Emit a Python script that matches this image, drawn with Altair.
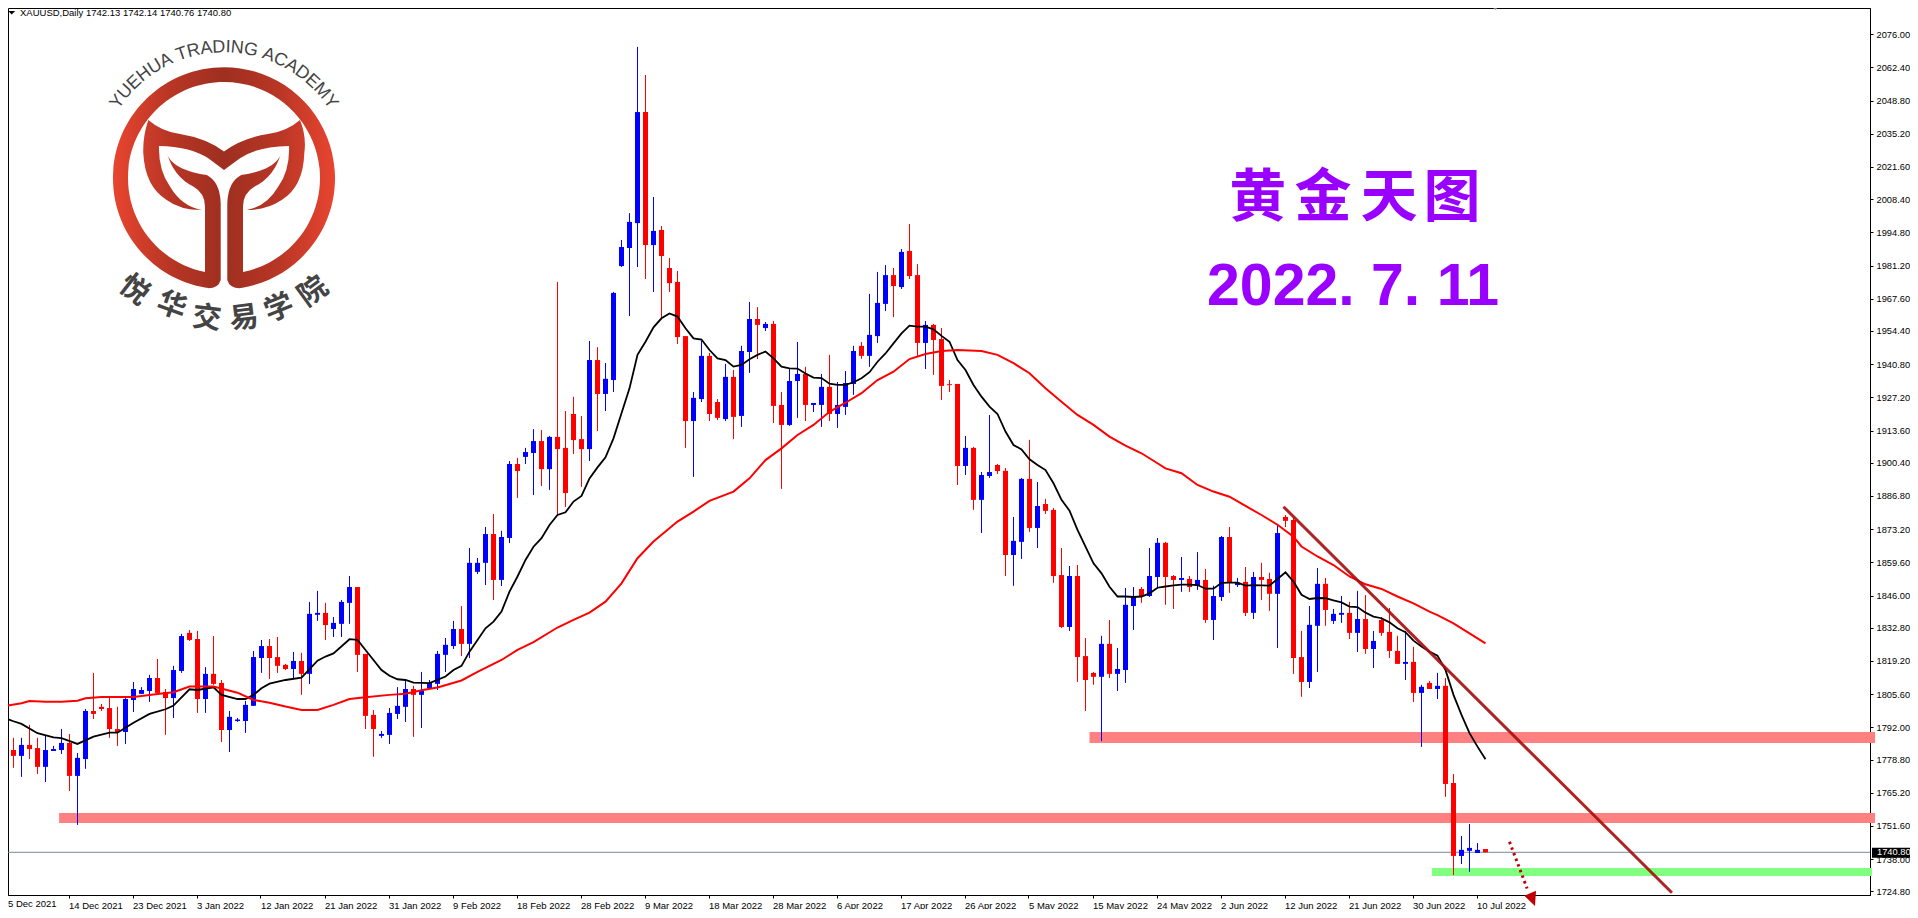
import math
import re
import altair as alt
import pandas as pd

opens = [
1781.1,1782.7,1780.3,1784.8,1783.5,1775.8,1782.3,1782.7,1785.6,1772.1,
1779.0,1798.7,1800.4,1799.9,1791.3,1790.1,1803.2,1805.7,1806.9,1812.2,
1806.5,1804.0,1815.1,1830.7,1828.2,1803.6,1813.9,1810.2,1790.9,1794.6,
1794.6,1800.8,1820.4,1825.3,1820.8,1817.6,1815.9,1819.2,1813.9,1838.1,
1838.9,1832.3,1834.4,1843.0,1849.5,1822.1,1797.1,1788.5,1788.9,1797.5,
1800.4,1807.7,1805.3,1808.0,1809.8,1821.7,1825.3,1832.3,1826.2,1855.7,
1859.4,1871.2,1852.4,1869.6,1899.9,1902.8,1904.4,1909.3,1897.8,1911.0,
1906.5,1920.4,1910.1,1906.0,1942.5,1928.6,1934.3,1981.0,1988.4,1998.6,
2044.1,1989.6,1995.8,1980.2,1974.5,1952.3,1917.5,1926.5,1944.2,1925.3,
1918.3,1935.6,1919.6,1945.8,1959.3,1955.6,1957.3,1924.1,1915.9,1933.9,
1936.8,1924.1,1924.1,1931.5,1920.4,1923.3,1932.7,1948.3,1944.2,1952.3,
1965.5,1977.3,1972.4,1987.2,1977.3,1949.5,1956.9,1951.1,1932.6,1932.7,
1899.1,1906.5,1885.2,1895.0,1899.5,1897.1,1862.6,1868.0,1893.8,1873.7,
1883.5,1881.1,1854.4,1833.1,1854.0,1821.2,1814.3,1812.7,1826.2,1813.9,
1815.5,1841.7,1848.7,1845.8,1853.6,1867.6,1854.0,1852.4,1852.8,1850.0,
1852.4,1836.0,1845.4,1870.0,1850.3,1851.6,1838.9,1853.6,1852.8,1846.7,
1878.2,1877.0,1820.8,1810.6,1833.6,1850.8,1835.6,1838.1,1838.9,1830.7,
1836.4,1824.1,1836.0,1831.1,1823.3,1818.0,1818.8,1806.1,1810.2,1807.7,
1809.0,1769.2,1739.3,1741.4,1740.5,1742.13]
highs = [
1783.8,1787.7,1787.7,1793.0,1787.7,1788.5,1784.4,1791.3,1789.3,1781.5,
1799.5,1814.3,1801.6,1804.4,1800.4,1804.0,1810.6,1808.5,1813.5,1820.0,
1807.7,1817.2,1830.3,1831.9,1831.5,1816.7,1829.4,1811.4,1798.7,1795.8,
1802.8,1823.3,1827.8,1828.2,1829.0,1818.0,1822.9,1822.5,1843.4,1847.9,
1843.0,1837.2,1844.2,1854.0,1849.5,1822.1,1799.1,1790.5,1799.9,1808.5,
1811.0,1809.0,1814.7,1811.4,1823.3,1828.6,1835.6,1841.7,1865.5,1861.4,
1874.1,1879.4,1872.5,1901.1,1902.4,1906.5,1914.2,1913.8,1911.4,1974.5,
1921.6,1927.4,1919.6,1950.3,1947.8,1941.3,1970.4,1991.7,2002.7,2070.8,
2059.3,2009.3,1997.4,1984.3,1979.0,1952.3,1929.4,1950.3,1945.4,1926.5,
1940.9,1938.4,1948.3,1966.3,1964.2,1958.1,1958.5,1929.4,1938.8,1949.9,
1939.7,1924.9,1936.8,1944.6,1933.5,1938.0,1948.3,1949.9,1969.6,1978.6,
1981.4,1980.2,1988.0,1998.2,1981.8,1958.5,1957.3,1955.6,1934.3,1932.7,
1911.4,1906.9,1896.6,1920.0,1899.9,1898.3,1878.2,1894.2,1909.8,1892.5,
1885.6,1881.9,1865.5,1858.1,1858.5,1828.6,1814.7,1829.5,1836.0,1824.5,
1849.1,1849.5,1849.5,1865.5,1869.6,1868.0,1854.4,1861.8,1854.0,1863.8,
1856.9,1850.0,1870.4,1874.1,1853.2,1857.7,1855.7,1859.4,1855.3,1875.0,
1879.0,1877.8,1831.5,1841.7,1857.3,1853.2,1840.5,1845.8,1843.4,1847.9,
1846.2,1831.5,1837.2,1840.9,1829.5,1831.5,1825.0,1809.4,1811.0,1814.3,
1812.2,1772.9,1747.5,1752.4,1744.6,1742.14]
lows = [
1780.3,1775.4,1771.7,1779.0,1772.9,1769.6,1782.3,1781.1,1765.9,1752.0,
1775.0,1795.4,1798.7,1787.7,1784.4,1785.2,1798.3,1805.7,1802.4,1805.3,
1788.9,1795.8,1814.3,1827.4,1797.9,1797.9,1809.4,1786.0,1781.9,1794.2,
1789.7,1800.8,1814.3,1811.8,1814.3,1815.5,1812.2,1805.3,1809.8,1835.6,
1827.8,1829.0,1829.0,1834.4,1814.7,1791.3,1779.9,1787.7,1785.2,1795.4,
1794.2,1788.1,1791.7,1808.0,1807.3,1814.7,1824.1,1821.2,1820.4,1854.8,
1850.3,1844.2,1849.9,1867.5,1886.0,1899.9,1887.2,1890.9,1889.3,1879.0,
1882.3,1904.0,1890.5,1901.1,1913.4,1921.6,1929.4,1980.6,1960.5,1980.6,
1975.7,1970.4,1959.7,1970.4,1949.1,1906.5,1894.6,1925.3,1917.5,1917.9,
1917.5,1910.1,1915.1,1937.2,1942.9,1954.4,1916.7,1889.7,1915.5,1918.8,
1917.5,1921.2,1915.1,1917.5,1914.7,1920.0,1928.2,1943.0,1939.7,1949.5,
1962.6,1960.1,1971.6,1975.7,1943.8,1938.8,1936.4,1926.1,1929.4,1891.3,
1895.4,1881.1,1871.6,1894.2,1895.8,1854.0,1850.0,1861.0,1872.1,1865.5,
1879.4,1851.2,1832.7,1831.5,1810.6,1798.7,1809.4,1786.4,1812.2,1806.9,
1810.2,1831.9,1843.0,1845.4,1849.1,1842.2,1840.5,1847.5,1847.5,1848.3,
1834.8,1827.8,1843.8,1847.1,1849.5,1837.6,1836.4,1844.2,1839.7,1824.5,
1874.1,1813.9,1804.5,1808.1,1814.7,1833.6,1834.4,1834.8,1828.2,1822.9,
1822.1,1816.3,1829.5,1820.4,1818.0,1811.4,1802.4,1784.0,1807.7,1803.6,
1763.5,1731.5,1736.0,1732.8,1740.5,1740.76]
closes = [
1782.7,1780.3,1784.8,1783.1,1775.8,1782.7,1783.1,1785.6,1772.1,1779.5,
1798.7,1797.5,1799.5,1791.3,1790.1,1803.6,1807.7,1807.3,1812.2,1806.1,
1804.0,1815.5,1829.4,1827.8,1803.6,1813.9,1809.8,1790.9,1796.3,1795.2,
1801.2,1820.8,1825.3,1820.4,1817.2,1815.9,1819.2,1813.9,1838.5,1838.9,
1833.9,1834.8,1843.4,1849.5,1821.7,1796.7,1791.3,1789.3,1797.9,1800.8,
1807.7,1805.3,1806.9,1810.2,1822.1,1825.8,1832.3,1826.2,1859.4,1859.4,
1871.2,1852.4,1870.0,1899.9,1897.0,1904.8,1909.3,1897.8,1911.0,1906.0,
1888.0,1909.7,1906.0,1942.5,1928.6,1934.8,1970.0,1988.8,1999.1,2044.1,
1989.6,1995.4,1985.1,1974.0,1951.9,1917.5,1927.0,1944.2,1920.4,1918.8,
1935.6,1919.2,1946.2,1959.3,1956.9,1957.3,1923.7,1915.9,1933.9,1936.8,
1924.1,1924.9,1931.5,1920.4,1924.1,1933.1,1946.2,1944.2,1952.8,1965.9,
1977.3,1972.8,1986.8,1976.9,1949.5,1956.9,1950.7,1931.9,1932.2,1899.1,
1906.5,1885.2,1895.4,1896.6,1897.0,1862.6,1868.4,1893.8,1873.7,1882.7,
1880.7,1854.0,1833.1,1854.0,1820.8,1811.4,1812.7,1826.2,1813.9,1815.9,
1842.2,1845.8,1845.8,1854.0,1867.6,1853.6,1852.4,1853.2,1849.5,1852.4,
1836.0,1845.8,1870.0,1851.2,1851.3,1838.9,1853.6,1852.4,1846.7,1871.6,
1876.6,1820.4,1810.6,1834.0,1850.8,1840.1,1838.5,1838.9,1830.7,1836.4,
1824.1,1827.4,1830.7,1823.3,1818.0,1818.8,1806.1,1808.6,1807.7,1809.0,
1768.8,1739.3,1741.8,1742.6,1741.8,1740.80]

black_bar = [0,1,2,4,6,7,9,11,13,14,16,18,20,21,23,24,26,27,29,30,31,32,33,35,37,39,40,41,43,44,45,47,48,49,50,51,53,55,56,57,58,59,
60,61,62,63,64,65,66,67,68,69,70,71,72,73,74,75,76,77,78,79,80,81,82,83,84,85,86,87,88,89,90,91,92,93,94,95,96,97,98,99,
100,101,102,103,104,105,106,107,108,109,110,111,112,113,114,115,116,117,118,119,120,121,122,123,124,125,126,127,128,129,130,
131,132,133,134,135,136,137,138,139,140,141,142,143,144,145,146,147,148,149,150,151,152,153,154,155,156,157,158,159,160,
161,162,163,164,165,166,167,168,169,170,171,172,173,174,175,176,177,178,179,180,181,182,183,184,185]
black_ma = [1795.7,1794.5,1793.4,1789.6,1787.9,1787.6,1785.2,1788.2,1789.8,1789.8,1793.9,1797.5,1799.4,1800.9,1807.6,1807.3,1808.4,1805.3,1803.6,1803.6,1805.3,1808.0,1809.9,1811.4,1812.4,1819.3,1821.0,1822.3,1828.1,1827.8,1823.7,1815.5,1813.1,1811.7,1811.4,1810.3,1810.1,1812.8,1815.5,1817.2,1823.0,1827.8,
1832.6,1835.3,1839.4,1847.6,1853.8,1860.6,1866.0,1869.5,1874.9,1879.0,1880.1,1884.5,1886.8,1894.0,1898.5,1902.6,1910.4,1920.7,1930.9,1944.6,1950.0,1955.9,1959.6,1961.6,1960.3,1955.5,1951.4,1950.9,1946.6,1943.2,1942.5,1939.8,1940.5,1942.8,1944.6,1946.0,1943.2,1939.8,1939.1,1939.0,
1937.0,1935.3,1935.1,1932.8,1932.3,1932.3,1933.4,1935.0,1937.5,1941.8,1945.2,1949.3,1953.4,1956.6,1956.2,1956.2,1955.1,1952.4,1950.0,1942.5,1938.4,1932.3,1927.5,1923.4,1920.4,1913.2,1907.7,1905.9,1901.8,1899.5,1897.4,
1892.0,1885.2,1880.8,1872.9,1866.0,1859.2,1855.1,1849.6,1845.6,1845.6,1845.4,1845.6,1846.9,1849.2,1849.7,1850.2,1850.5,1850.5,1850.3,1848.8,1848.8,1851.2,1851.3,1851.3,1850.1,1850.3,1850.2,1850.1,1852.8,1855.5,
1851.7,1846.3,1844.6,1845.0,1844.9,1844.0,1843.2,1841.5,1841.3,1839.0,1837.4,1836.7,1835.0,1832.6,1831.0,1827.5,1825.1,1823.0,1821.4,1815.5,1805.3,1797.1,1789.6,1784.1,1778.9]

red_bar = [0,2,3,5,7,9,10,12,16,19,21,23,26,29,31,33,35,37,39,41,43,45,48,50,52,54,57,59,62,64,66,69,71,73,75,77,79,81,84,86,88,91,93,95,97,99,101,103,105,107,109,
111,113,115,117,119,122,124,126,128,130,132,134,136,138,140,142,144,145,147,149,151,153,155,157,159,161,162,164,166,168,170,172,174,176,178,179,181,183,185]
red_ma = [1800.8,1801.9,1802.8,1802.5,1802.5,1802.9,1803.9,1804.4,1804.4,1805.7,1806.4,1808.7,1808.7,1806.2,1803.2,1802.1,1800.5,1799.1,1799.1,1801.2,1803.6,1804.3,1805.3,1805.8,1807.2,1808.3,1811.2,1814.7,1819.6,1823.7,1826.9,1832.9,1836.0,1839.0,1843.5,1851.0,1861.3,1868.1,1876.3,1880.4,1884.8,1888.6,1894.0,1901.5,1906.3,1911.8,1915.9,1921.3,1925.0,1928.9,1934.3,
1937.7,1942.9,1945.0,1946.2,1946.6,1946.2,1944.6,1941.2,1937.1,1930.9,1925.4,1920.0,1915.9,1911.1,1907.4,1904.3,1900.2,1898.1,1896.1,1891.3,1888.6,1886.5,1882.7,1879.0,1875.0,1870.1,1866.1,1862.0,1858.5,1853.8,1850.6,1848.7,1845.6,1842.8,1839.4,1838.0,1834.6,1830.5,1826.4]

date_bars = [8,16,24,32,40,48,56,64,72,80,88,96,104,112,120,128,136,144,152,160,168,176,184]
date_labels = ["14 Dec 2021","23 Dec 2021","3 Jan 2022","12 Jan 2022","21 Jan 2022","31 Jan 2022","9 Feb 2022","18 Feb 2022","28 Feb 2022","9 Mar 2022","18 Mar 2022","28 Mar 2022","6 Apr 2022","17 Apr 2022","26 Apr 2022","5 May 2022","15 May 2022","24 May 2022","2 Jun 2022","12 Jun 2022","21 Jun 2022","30 Jun 2022","10 Jul 2022"]
first_date = "5 Dec 2021"
price_ticks = [2076.0,2062.4,2048.8,2035.2,2021.6,2008.4,1994.8,1981.2,1967.6,1954.4,1940.8,1927.2,1913.6,1900.4,1886.8,1873.2,1859.6,1846.0,1832.8,1819.2,1805.6,1792.0,1778.8,1765.2,1751.6,1738.0,1724.8]
last_price = 1740.80

band_x0 = [6.7,135.5,178.3]
band_x1 = [233.7,233.7,233.3]
band_top = [1756.9,1790.1,1734.4]
band_bottom = [1752.8,1785.6,1731.1]
band_colors = ["#FF8080","#FF8080","#80FF80"]
trend_bar = [159.75,208.3]
trend_price = [1882.4,1724.2]
arrow_bar = [188.0,190.2]
arrow_price = [1745.1,1726.0]

FONT = "Liberation Sans"
x_scale = alt.Scale(domain=[0.3125,233.0625], nice=False, zero=False)
y_scale = alt.Scale(domain=[1723.3,2086.74], nice=False, zero=False)

x_axis = alt.Axis(
    values=date_bars, labelExpr="%s[datum.value/8-1]" % str(date_labels),
    grid=False, labelFont=FONT, labelFontSize=9.5, labelColor="#000", labelAlign="left",
    tickSize=3, tickColor="#000", domainColor="#000", labelPadding=2, labelOverlap=False,
    labelFlush=False, labelBound=False, tickOffset=-1, title=None)
y_axis = alt.Axis(
    orient="right", values=price_ticks, format=".2f", grid=False, labelFont=FONT, labelFontSize=9.3,
    labelColor="#000", tickSize=3, tickColor="#000", domainColor="#000", labelPadding=3,
    labelOverlap=False, labelBound=False, labelFlush=False, title=None)

X = lambda f: alt.X(f, scale=x_scale, axis=x_axis)
Y = lambda f: alt.Y(f, scale=y_scale, axis=y_axis)

bars = list(range(len(opens)))
candles = pd.DataFrame({"bar":bars,"o":opens,"h":highs,"l":lows,"c":closes})
candles["dir"] = ["up" if c>o else "down" for o,c in zip(opens,closes)]
dir_color = alt.Color("dir:N", scale=alt.Scale(domain=["up","down"],range=["#0000FF","#FF0000"]), legend=None)

price_line = alt.Chart(pd.DataFrame({"p":[last_price]})).mark_rule(color="#778899", strokeWidth=1).encode(y=Y("p:Q"))
bands_df = pd.DataFrame({"x0":band_x0,"x1":band_x1,"t":band_top,"b":band_bottom,"col":band_colors})
bands = alt.Chart(bands_df).mark_rect().encode(x=X("x0:Q"),x2="x1:Q",y=Y("t:Q"),y2="b:Q",color=alt.Color("col:N",scale=None))
wicks = alt.Chart(candles).mark_rule(strokeWidth=1).encode(x=X("bar:Q"),y=Y("h:Q"),y2="l:Q",color=dir_color)
bodies = alt.Chart(candles).mark_rule(strokeWidth=5).encode(x=X("bar:Q"),y=Y("o:Q"),y2="c:Q",color=dir_color)
black_line = alt.Chart(pd.DataFrame({"bar":black_bar,"v":black_ma})).mark_line(color="#000000",strokeWidth=1.8).encode(x=X("bar:Q"),y=Y("v:Q"))
red_line = alt.Chart(pd.DataFrame({"bar":red_bar,"v":red_ma})).mark_line(color="#FF0000",strokeWidth=2).encode(x=X("bar:Q"),y=Y("v:Q"))
trend = alt.Chart(pd.DataFrame({"bar":trend_bar,"v":trend_price})).mark_line(color="#A81010",strokeWidth=3,opacity=0.92).encode(x=X("bar:Q"),y=Y("v:Q"))
arrow = alt.Chart(pd.DataFrame({"bar":arrow_bar,"v":arrow_price})).mark_line(color="#C00000",strokeWidth=3,strokeDash=[2.5,3.5]).encode(x=X("bar:Q"),y=Y("v:Q"))

one = pd.DataFrame({"n":[1]})

def shape(path, px, py, **kw):
    return alt.Chart(one).mark_point(shape=path, size=4, filled=True, strokeWidth=0, opacity=1, **kw).encode(
        x=alt.value(px-8), y=alt.value(py-8))

def label(text, px, py, size, color="#000000", font=FONT, weight="normal", angle=0, align="left", baseline="middle"):
    return alt.Chart(one).mark_text(text=text, font=font, fontSize=size, color=color, fontWeight=weight,
                                    angle=angle % 360, align=align, baseline=baseline).encode(
        x=alt.value(px-8), y=alt.value(py-8))

arrow_head = shape("M-7.7,-1.8 L4,-6.8 L3,8.5 Z", 1532, 897.5, color="#C00000")

def logo_path():
    cx, cy = 402, 475
    def conv(t):
        return re.sub(r"(\d+),(\d+)", lambda m: "%.1f,%.1f" % ((int(m[1])-cx)/3, (int(m[2])-cy)/3), t)
    ring = (conv("M360,805 ") + "A111,111 0 1 1 " + conv("444,805 L459,756 ") +
            "A96,96 0 1 0 " + conv("345,756 ") + "Z ")
    crown = conv("M175,300 Q215,335 270,342 Q350,355 402,395 Q455,355 534,342 Q590,335 630,300 "
                 "Q650,350 643,400 Q640,500 575,540 Q530,570 470,570 Q530,560 565,500 Q600,450 597,378 "
                 "Q500,380 450,415 L402,450 L355,415 Q300,380 207,378 Q205,450 240,500 Q275,560 335,570 "
                 "Q270,570 230,540 Q165,500 160,400 Q158,350 175,300 Z ")
    left = conv("M230,397 Q235,425 275,445 Q310,460 350,465 Q390,485 392,550 L392,780 Q385,805 355,805 "
                "L345,756 L345,560 Q345,520 310,500 Q250,470 230,397 Z ")
    right = conv("M574,397 Q554,470 494,500 Q459,520 459,560 L459,756 L449,805 Q419,805 412,780 L412,550 "
                 "Q414,485 454,465 Q494,460 529,445 Q569,425 574,397 Z")
    return ring + crown + left + right

grad = alt.Gradient(gradient="linear", x1=0, x2=1, y1=0, y2=0, stops=[
    alt.GradientStop(color="#E84530", offset=0), alt.GradientStop(color="#B93625", offset=0.25),
    alt.GradientStop(color="#9E2F20", offset=0.5), alt.GradientStop(color="#B93625", offset=0.75),
    alt.GradientStop(color="#E84530", offset=1)])
LCX, LCY = 224.0, 178.3
logo = alt.Chart(one).mark_point(shape=logo_path(), size=4, filled=True, strokeWidth=0, opacity=1, fill=grad).encode(
    x=alt.value(LCX-8), y=alt.value(LCY-8))

arc_text = "YUEHUA TRADING ACADEMY"
arc_w = {"Y":.667,"U":.722,"E":.667,"H":.722,"A":.667," ":.278,"T":.611,"R":.722,"D":.722,"I":.278,"N":.722,"G":.778,"C":.722,"M":.833}
total = sum(arc_w[c] for c in arc_text)
span = 114.0
pos = 0.0
overlays = []
for ch in arc_text:
    w = arc_w[ch]
    th = -span/2 + span*(pos+w/2)/total
    pos += w
    if ch != " ":
        r = 126
        overlays.append(label(ch, LCX+r*math.sin(math.radians(th)), LCY-r*math.cos(math.radians(th)), 18,
                              color="#444444", angle=th, align="center", baseline="alphabetic"))

cjk_chars = ["悦","华","交","易","学","院"]
cjk_x = [134.3,171.7,206.7,244.0,279.0,313.3]
cjk_y = [290.0,306.0,318.3,318.3,308.3,291.7]
cjk_a = [38,20,7,-7,-22,-36]
for ch,px,py,a in zip(cjk_chars,cjk_x,cjk_y,cjk_a):
    overlays.append(label(ch,px,py,29,color="#444444",font="Noto Sans CJK SC",weight="bold",angle=a,align="center"))

title_chars = ["黄","金","天","图"]
title_x = [1257.7,1323.0,1389.0,1452.0]
for ch,px in zip(title_chars,title_x):
    overlays.append(label(ch,px,199,57,color="#9900FF",font="Noto Sans CJK SC",weight="bold",align="center"))
overlays.append(label("2022. 7. 11",1207,305,59,color="#9900FF",weight="bold",baseline="alphabetic"))

overlays.append(shape("M-3.5,-1.8 L3.5,-1.8 L0,1.8 Z",11.7,12.8,color="#000000"))
overlays.append(label("XAUUSD,Daily  1742.13 1742.14 1740.76 1740.80",20,12.7,9.5))
overlays.append(shape("M-5,-4 L5,-4 L0,1 Z",1495.3,9,color="#778899"))
overlays.append(label(first_date,8,904,9.5))

tag = alt.Chart(one).mark_rect(color="#000000").encode(
    x=alt.value(1864), x2=alt.value(1904.7), y=alt.value(839.7), y2=alt.value(849.7))
tag_text = alt.Chart(pd.DataFrame({"p":[last_price]})).mark_text(
    font=FONT, fontSize=9.3, color="#FFFFFF", align="left", baseline="middle").encode(
    x=alt.value(1869), y=Y("p:Q"), text=alt.Text("p:Q", format=".2f"))

chart = alt.layer(
    price_line, bands, wicks, bodies, black_line, red_line, trend, arrow, arrow_head, tag, tag_text, logo, *overlays
).properties(
    width=1862, height=887,
    autosize=alt.AutoSizeParams(type="none"),
    padding={"left":0,"top":0,"right":40,"bottom":14},
    background="#FFFFFF",
).configure_view(stroke="#000000", strokeWidth=1)

chart.save("out.html", embed_options={"renderer": "svg", "actions": False})
